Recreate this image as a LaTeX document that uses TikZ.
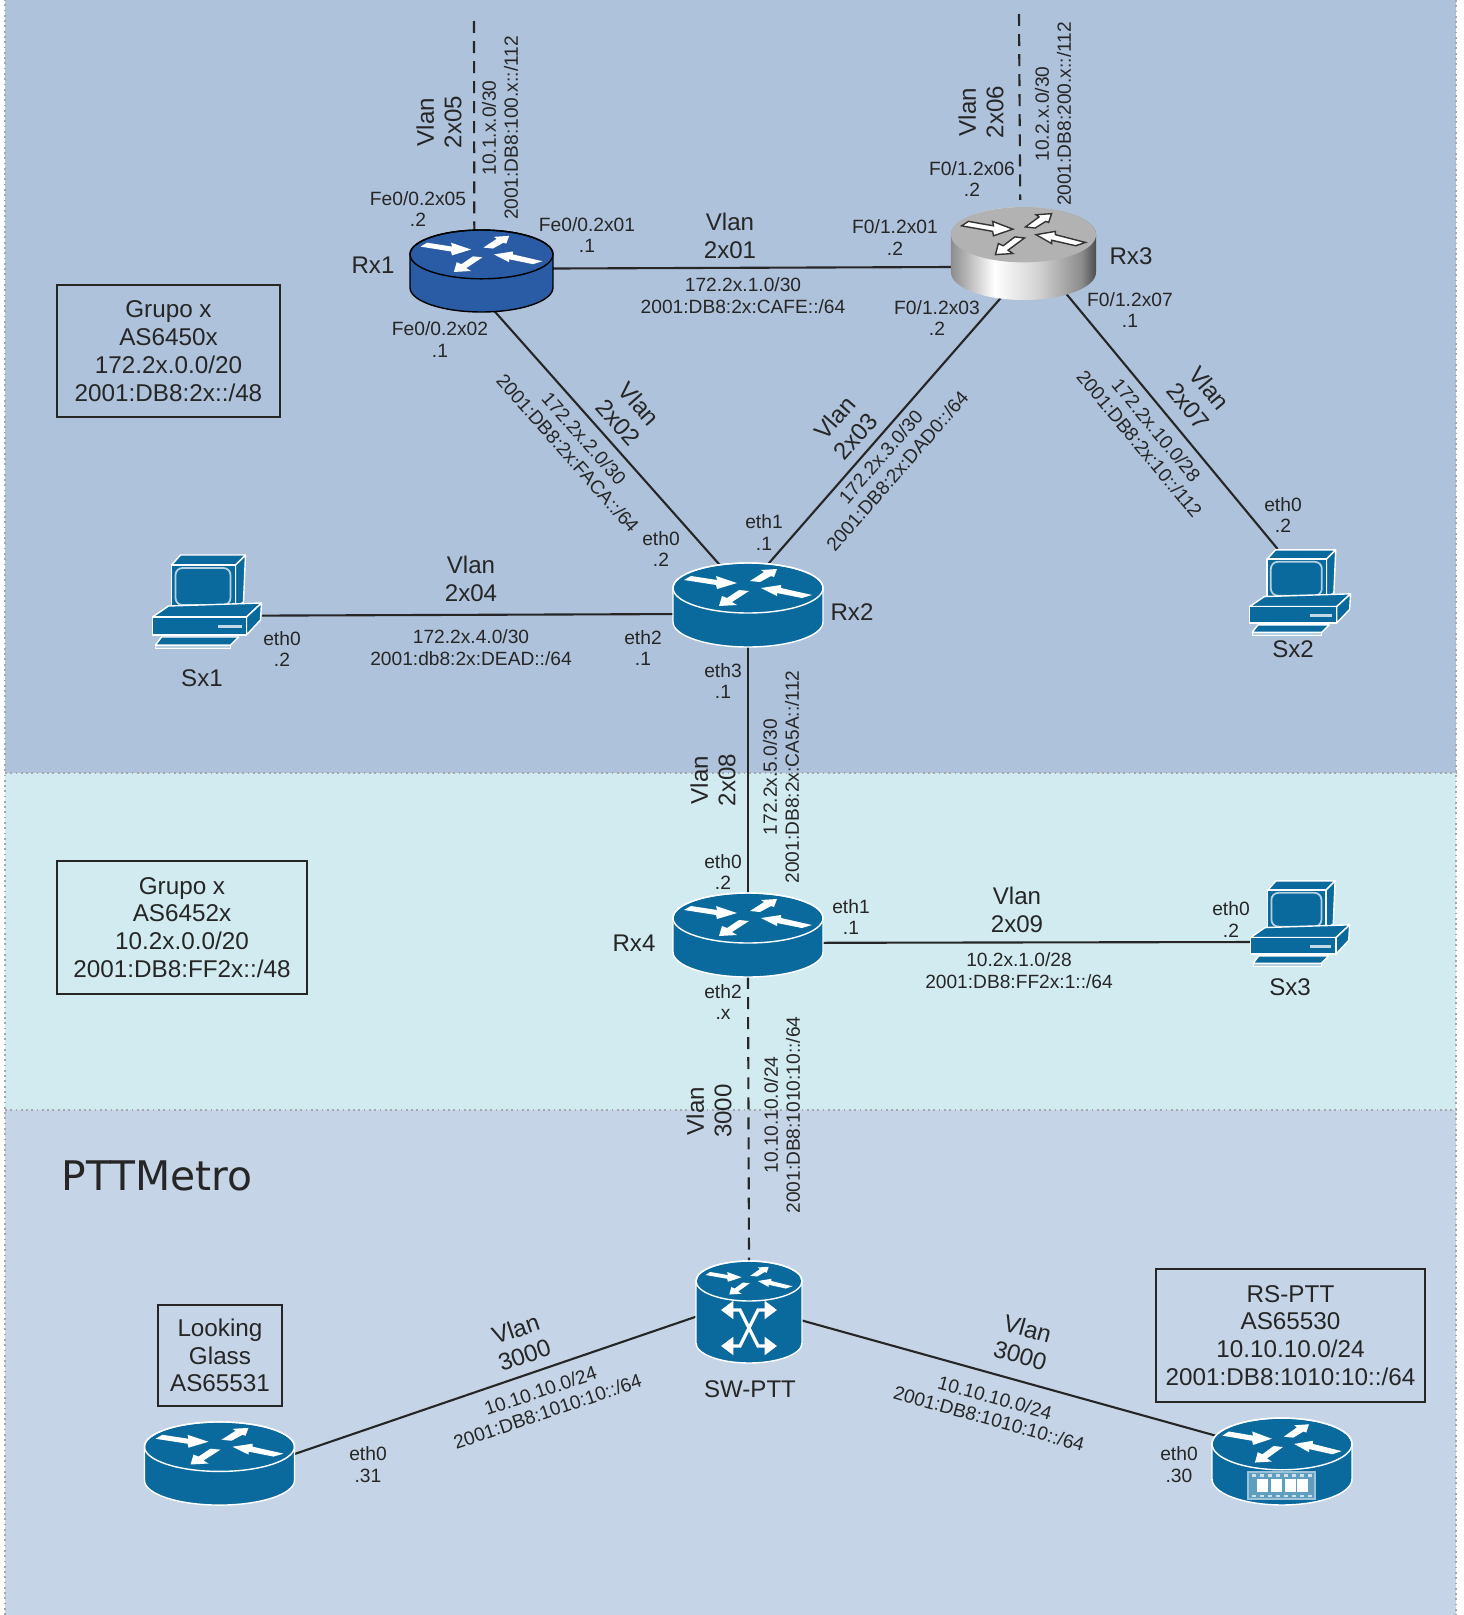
\documentclass[tikz,border=0pt]{standalone}
\usepackage{fontspec}
\setmainfont{Liberation Sans}
\newfontfamily\titlefont{DejaVu Sans}
\usetikzlibrary{shapes.geometric,arrows.meta}

\definecolor{bandtop}{HTML}{AEC2DC}
\definecolor{bandmid}{HTML}{D2EBF1}
\definecolor{bandlow}{HTML}{C5D5E7}
\definecolor{ciscoteal}{HTML}{0B6A9D}
\definecolor{ciscoblue}{HTML}{2A5CA5}
\definecolor{inktext}{HTML}{262626}

\pgfdeclarehorizontalshading{rxsilver}{100bp}{color(0bp)=(gray!90); color(25bp)=(gray!90); color(40bp)=(white); color(55bp)=(gray!35); color(70bp)=(gray!90); color(75bp)=(black!70); color(100bp)=(black!70)}

\newcommand{\routerarrows}[1]{
  \filldraw[#1] (-64,-8) -- (-57,-12) -- (-31,-8) -- (-32,-12) -- (-11,-5) -- (-31,1) -- (-32,-3) -- cycle;
  \filldraw[#1] (2,-7) -- (12,-6) -- (23,-12) -- (26,-11) -- (29,-19) -- (13,-18) -- (16,-16) -- cycle;
  \filldraw[#1] (64,7) -- (54,10) -- (29,5) -- (29,8) -- (13,0) -- (33,-3) -- (33,0) -- cycle;
  \filldraw[#1] (1,3) -- (-9,2) -- (-21,10) -- (-26,8) -- (-29,18) -- (-11,17) -- (-16,14) -- cycle;
}

\tikzset{
  every node/.style={text=inktext},
  link/.style={draw=inktext,line width=0.6pt},
  vlanlink/.style={link,dash pattern=on 3.4pt off 2.3pt},
  rnode/.style={shape=ellipse,inner sep=0pt,outer sep=0pt},
  pcnode/.style={shape=rectangle,inner sep=0pt,outer sep=0pt},
  portlbl/.style={align=center,font=\fontsize{5.47}{6.2}\selectfont},
  netlbl/.style={align=center,font=\fontsize{5.45}{6.2}\selectfont},
  vlanlbl/.style={align=center,font=\fontsize{6.85}{7.8}\selectfont},
  devlbl/.style={font=\fontsize{6.85}{7.8}\selectfont},
  asbox/.style={draw=inktext,line width=0.6pt,align=center,inner sep=0pt,font=\fontsize{6.9}{7.9}\selectfont},
  band/.style={draw=black!35,densely dotted,line width=0.5pt},
  pics/router/.style 2 args={code={
    \filldraw[fill=#1,draw=#2,line width=0.4pt] (-75,-17) -- (-75,17) arc[start angle=180,end angle=0,x radius=75,y radius=25] -- (75,-17) arc[start angle=0,end angle=-180,x radius=75,y radius=25] -- cycle;
    \draw[#2,line width=0.4pt] (0,-17) ellipse[x radius=75,y radius=25];
    \begin{scope}[shift={(0,-17)}]
      \routerarrows{white,draw=none}
    \end{scope}
  }},
  pics/silverrouter/.style={code={
    \path[shading=rxsilver] (-75,-17) -- (-75,17) arc[start angle=180,end angle=0,x radius=75,y radius=25] -- (75,-17) arc[start angle=0,end angle=-180,x radius=75,y radius=25] -- cycle;
    \fill[black!30] (0,-17) ellipse[x radius=75,y radius=25];
    \begin{scope}[shift={(0,-17)}]
      \routerarrows{white,draw=black!80,line width=0.4pt}
    \end{scope}
  }},
  pics/switchcan/.style={code={
    \filldraw[fill=ciscoteal,draw=white,line width=0.4pt] (-53,-31) -- (-53,31) arc[start angle=180,end angle=0,x radius=53,y radius=20] -- (53,-31) arc[start angle=0,end angle=-180,x radius=53,y radius=20] -- cycle;
    \draw[white,line width=0.4pt] (0,-31) ellipse[x radius=53,y radius=20];
    \begin{scope}[shift={(0,-31)},xscale=.68,yscale=.75]
      \routerarrows{white,draw=none}
    \end{scope}
    \draw[white,line width=0.9pt,{Triangle[width=5pt,length=3.5pt]}-{Triangle[width=5pt,length=3.5pt]}] (-28,-2) -- (-9,-2) -- (9,34) -- (28,34);
    \draw[white,line width=0.9pt,{Triangle[width=5pt,length=3.5pt]}-{Triangle[width=5pt,length=3.5pt]}] (-28,34) -- (-9,34) -- (9,-2) -- (28,-2);
  }},
  pics/pcbox/.style={code={
    \filldraw[fill=ciscoteal,draw=white,line width=0.4pt,line join=round] (-36,-36) -- (-27,-46) -- (38,-46) -- (28,-36) -- cycle;
    \filldraw[fill=ciscoteal,draw=white,line width=0.4pt,line join=round] (28,-36) -- (38,-46) -- (36,1) -- (28,7) -- cycle;
    \filldraw[fill=ciscoteal,draw=white,line width=0.4pt,line join=round] (-36,-36) rectangle (28,7);
    \draw[white!70!ciscoteal,line width=0.5pt,rounded corners=2pt] (-32,-33) rectangle (23,4);
    \filldraw[fill=ciscoteal,draw=white,line width=0.4pt,line join=round] (-55,16) -- (-39,5) -- (54,2) -- (39,16) -- cycle;
    \filldraw[fill=ciscoteal,draw=white,line width=0.4pt,line join=round] (39,16) -- (54,2) -- (53,19) -- (39,34) -- cycle;
    \filldraw[fill=ciscoteal,draw=white,line width=0.4pt] (-55,16) rectangle (39,34);
    \fill[white!75!ciscoteal] (10,24) rectangle (34,27);
    \filldraw[fill=ciscoteal,draw=white,line width=0.4pt,line join=round] (-46,36) -- (31,36) -- (23,44) -- (-52,44) -- cycle;
    \filldraw[fill=white!70!ciscoteal,draw=white,line width=0.2pt] (-52,44) rectangle (23,47);
  }},
  pics/rsmodule/.style={code={
    \filldraw[fill=white!35!ciscoteal,draw=white!60!ciscoteal,line width=0.3pt] (-34,10.5) rectangle (33,37.5);
    \foreach \x in {-25,-11,3,15}
    {
      \fill[white] (\x,17.5) rectangle ++(11,13);
    }
    \foreach \x in {-30,-22,-14,-6,2,10,18,26}
    {
      \fill[white!80!ciscoteal] (\x,12.5) rectangle ++(4,2.5);
      \fill[white!80!ciscoteal] (\x,33) rectangle ++(4,2.5);
    }
  }}
}

\begin{document}
\begin{tikzpicture}[x=0.01cm,y=-0.01cm]
\useasboundingbox (0,0) rectangle (1463,1615);

% areas
\path[fill=bandtop] (5,0) rectangle (1456,773);
\path[fill=bandmid] (5,773) rectangle (1456,1110);
\path[fill=bandlow] (5,1110) rectangle (1456,1615);
\draw[band] (5,1615) -- (5,0);
\draw[band] (1456,0) -- (1456,1615);
\draw[band] (5,773) -- (1456,773);
\draw[band] (5,1110) -- (1456,1110);

% devices, named first
\node[rnode,minimum width=1.43cm,minimum height=.82cm] (Rx1) at (481.5,271) {};
\node[rnode,minimum width=1.45cm,minimum height=.93cm] (Rx3) at (1023.5,253.5) {};
\node[rnode,minimum width=1.51cm,minimum height=.84cm] (Rx2) at (748,605) {};
\node[rnode,minimum width=1.51cm,minimum height=.84cm] (Rx4) at (748,935) {};
\node[rnode,minimum width=1.06cm,minimum height=1.02cm] (SW) at (749,1312) {};
\node[rnode,minimum width=1.51cm,minimum height=.83cm] (LG) at (219.5,1463.5) {};
\node[rnode,minimum width=1.40cm,minimum height=.87cm] (RS) at (1282,1461.5) {};
\node[pcnode,minimum width=1.09cm,minimum height=.94cm] (Sx1) at (207.5,601) {};
\node[pcnode,minimum width=1.01cm,minimum height=.86cm] (Sx2) at (1300.5,592) {};
\node[pcnode,minimum width=.99cm,minimum height=.86cm] (Sx3) at (1300.5,923) {};

\coordinate (Top2x05) at (474,21);
\coordinate (Top2x06) at (1019,14);

% links
\draw[link] (Rx1.2.4) -- (Rx3.191.9);
\draw[link] (Rx1.288) -- (Rx2.125.5);
\draw[link] (Rx2.64.6) -- (Rx3.243);
\draw[link] (Rx3.317.6) -- (Sx2.118.7);
\draw[link] (Sx1.345.6) -- (Rx2.187.8);
\draw[link] (Rx2.south) -- (Rx4.north);
\draw[link] (Rx4.354.7) -- (Sx3.201);
\draw[link] (SW.185.5) -- (LG.7.6);
\draw[link] (SW.351.4) -- (RS.158.1);
\draw[vlanlink] (Rx4.south) -- (SW.north);
\draw[vlanlink] (Top2x05) -- (Rx1.100);
\draw[vlanlink,shorten >=2pt] (Top2x06) -- (Rx3.94);

\pic[xscale=.953,yscale=.976] at (Rx1) {router={ciscoblue}{black}};
\pic[xscale=.967,yscale=1.107] at (Rx3) {silverrouter};
\pic at (Rx2) {router={ciscoteal}{white}};
\pic at (Rx4) {router={ciscoteal}{white}};
\pic[yscale=.99] at (LG) {router={ciscoteal}{white}};
\pic[xscale=.933,yscale=1.035] at (RS) {router={ciscoteal}{white}};
\pic at (RS) {rsmodule};
\pic at (SW) {switchcan};
\pic at (Sx1) {pcbox};
\pic[xscale=.927,yscale=.915] at (Sx2) {pcbox};
\pic[xscale=.91,yscale=.915] at (Sx3) {pcbox};

% device names
\node[devlbl] (nRx1) at (373,265) {Rx1};
\node[devlbl] (nRx3) at (1131,256) {Rx3};
\node[devlbl] (nRx2) at (852,612) {Rx2};
\node[devlbl] (nRx4) at (634,943) {Rx4};
\node[devlbl] (nSx1) at (202,678) {Sx1};
\node[devlbl] (nSx2) at (1293,649) {Sx2};
\node[devlbl] (nSx3) at (1290,987) {Sx3};
\node[devlbl] (nSW) at (750,1389) {SW-PTT};
\node[font=\titlefont\fontsize{11.6}{13}\selectfont] (nMetro) at (157,1176) {PTTMetro};

% as boxes
\node[asbox,minimum width=2.23cm,minimum height=1.32cm] (boxAS0) at (168.5,351) {Grupo x\\AS6450x\\172.2x.0.0/20\\2001:DB8:2x::/48};
\node[asbox,minimum width=2.50cm,minimum height=1.33cm] (boxAS2) at (182,927.5) {Grupo x\\AS6452x\\10.2x.0.0/20\\2001:DB8:FF2x::/48};
\node[asbox,minimum width=1.24cm,minimum height=1.01cm] (boxLG) at (220,1355.5) {Looking\\Glass\\AS65531};
\node[asbox,minimum width=2.69cm,minimum height=1.33cm] (boxRS) at (1290.5,1335.5) {RS-PTT\\AS65530\\10.10.10.0/24\\2001:DB8:1010:10::/64};

% ports
\node[portlbl] (pRx1a) at (418,209) {Fe0/0.2x05\\.2};
\node[portlbl] (pRx1b) at (587,235) {Fe0/0.2x01\\.1};
\node[portlbl] (pRx1c) at (440,339.5) {Fe0/0.2x02\\.1};
\node[portlbl] (pRx3a) at (972,179) {F0/1.2x06\\.2};
\node[portlbl] (pRx3b) at (895,237.5) {F0/1.2x01\\.2};
\node[portlbl] (pRx3c) at (937,318) {F0/1.2x03\\.2};
\node[portlbl] (pRx3d) at (1130,310) {F0/1.2x07\\.1};
\node[portlbl] (pRx2a) at (661,549) {eth0\\.2};
\node[portlbl] (pRx2b) at (764,532.5) {eth1\\.1};
\node[portlbl] (pRx2c) at (643,648) {eth2\\.1};
\node[portlbl] (pRx2d) at (723,681) {eth3\\.1};
\node[portlbl] (pSx1) at (282,649) {eth0\\.2};
\node[portlbl] (pSx2) at (1283,515) {eth0\\.2};
\node[portlbl] (pRx4a) at (723,872) {eth0\\.2};
\node[portlbl] (pRx4b) at (851,917) {eth1\\.1};
\node[portlbl] (pRx4c) at (723,1002) {eth2\\.x};
\node[portlbl] (pSx3) at (1231,919.5) {eth0\\.2};
\node[portlbl] (pLG) at (368,1465) {eth0\\.31};
\node[portlbl] (pRS) at (1179,1465) {eth0\\.30};

% vlans
\node[vlanlbl] (v2x01) at (730,236) {Vlan\\2x01};
\node[vlanlbl,rotate=90] (v2x05) at (439,122) {Vlan\\2x05};
\node[vlanlbl,rotate=90] (v2x06) at (981,112) {Vlan\\2x06};
\node[vlanlbl,rotate=-48.5] (v2x02) at (629,413) {Vlan\\2x02};
\node[vlanlbl,rotate=48.8] (v2x03) at (845,427) {Vlan\\2x03};
\node[vlanlbl,rotate=-50.4] (v2x07) at (1199,397) {Vlan\\2x07};
\node[vlanlbl] (v2x04) at (471,579) {Vlan\\2x04};
\node[vlanlbl,rotate=90] (v2x08) at (713,780) {Vlan\\2x08};
\node[vlanlbl] (v2x09) at (1017,910) {Vlan\\2x09};
\node[vlanlbl,rotate=90] (v3000a) at (709,1111) {Vlan\\3000};
\node[vlanlbl,rotate=18.7] (v3000b) at (520,1342) {Vlan\\3000};
\node[vlanlbl,rotate=-15.7] (v3000c) at (1024,1342) {Vlan\\3000};

% networks
\node[netlbl] (n2x01) at (743,296) {172.2x.1.0/30\\2001:DB8:2x:CAFE::/64};
\node[netlbl,rotate=90] (n2x05) at (500,128) {10.1.x.0/30\\2001:DB8:100.x::/112};
\node[netlbl,rotate=90] (n2x06) at (1053,114) {10.2.x.0/30\\2001:DB8:200.x::/112};
\node[netlbl,rotate=-48.5] (n2x02) at (576,446) {172.2x.2.0/30\\2001:DB8:2x:FACA::/64};
\node[netlbl,rotate=48.8] (n2x03) at (889,464) {172.2x.3.0/30\\2001:DB8:2x:DAD0::/64};
\node[netlbl,rotate=-50.4] (n2x07) at (1148,437) {172.2x.10.0/28\\2001:DB8:2x:10::/112};
\node[netlbl] (n2x04) at (471,648) {172.2x.4.0/30\\2001:db8:2x:DEAD::/64};
\node[netlbl,rotate=90] (n2x08) at (781,777) {172.2x.5.0/30\\2001:DB8:2x:CA5A::/112};
\node[netlbl] (n2x09) at (1019,971) {10.2x.1.0/28\\2001:DB8:FF2x:1::/64};
\node[netlbl,rotate=90] (n3000a) at (782,1115) {10.10.10.0/24\\2001:DB8:1010:10::/64};
\node[netlbl,rotate=18.7] (n3000b) at (544,1401) {10.10.10.0/24\\2001:DB8:1010:10::/64};
\node[netlbl,rotate=-15.7] (n3000c) at (992,1408) {10.10.10.0/24\\2001:DB8:1010:10::/64};

\end{tikzpicture}
\end{document}
